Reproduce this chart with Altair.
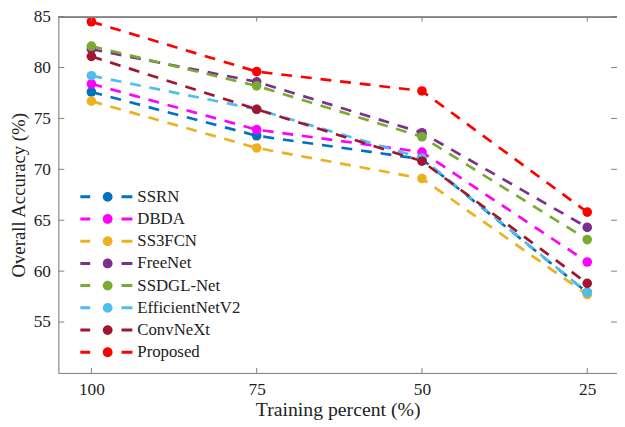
import altair as alt
import pandas as pd

train = [100, 75, 50, 25]
series_names = ["SSRN", "DBDA", "SS3FCN", "FreeNet", "SSDGL-Net", "EfficientNetV2", "ConvNeXt", "Proposed"]
colors = ["#0072BD", "#FF00FF", "#EDB120", "#7E2F8E", "#77AC30", "#4DBEEE", "#A2142F", "#FF0000"]

ssrn = [77.6, 73.3, 71.0, 57.9]
dbda = [78.4, 73.9, 71.7, 60.9]
ss3fcn = [76.7, 72.1, 69.1, 57.7]
freenet = [81.8, 78.6, 73.6, 64.3]
ssdgl = [82.1, 78.2, 73.2, 63.1]
effnet = [79.2, 75.9, 71.1, 57.9]
convnext = [81.1, 75.9, 70.8, 58.8]
proposed = [84.5, 79.6, 77.7, 65.8]

x_ticks = [100, 75, 50, 25]
y_ticks = [55, 60, 65, 70, 75, 80, 85]

W, H = 566, 361

all_vals = [ssrn, dbda, ss3fcn, freenet, ssdgl, effnet, convnext, proposed]
rows = []
for name, vals in zip(series_names, all_vals):
    for t, v in zip(train, vals):
        rows.append({"Method": name, "Training": t, "OA": v})
df = pd.DataFrame(rows)

FONT = "Liberation Serif"
AX = "#808080"
TXT = "#222222"

xscale = alt.Scale(domain=[20.5, 105], reverse=True, nice=False, zero=False)
yscale = alt.Scale(domain=[50, 85], nice=False, zero=False)
cscale = alt.Scale(domain=series_names, range=colors)

legend_path = ("M-3.08,-0.17H-1.97V0.17H-3.08Z "
               "M1.56,-0.17H2.78V0.17H1.56Z "
               "M-0.55,0A0.55,0.55 0 1,1 0.55,0A0.55,0.55 0 1,1 -0.55,0Z")

legend = alt.Legend(title=None, orient="none", legendX=41, legendY=173.5,
                    symbolType=legend_path, symbolSize=324,
                    symbolStrokeWidth=0, symbolOpacity=1,
                    labelFont=FONT, labelFontSize=17,
                    labelColor=TXT, labelOffset=21, rowPadding=5.5,
                    padding=0)

xaxis = alt.Axis(values=x_ticks, title="Training percent (%)", titleFont=FONT,
                 titleFontSize=20, titleFontWeight="normal", titleColor=TXT,
                 labelFont=FONT, labelFontSize=17.5, labelColor=TXT, labelPadding=8,
                 ticks=False, grid=False, domainColor=AX, titlePadding=2)
yaxis = alt.Axis(values=y_ticks, title="Overall Accuracy (%)", titleFont=FONT,
                 titleFontSize=19, titleFontWeight="normal", titleColor=TXT,
                 labelFont=FONT, labelFontSize=17.5, labelColor=TXT, labelPadding=8,
                 ticks=False, grid=False, domainColor=AX, titlePadding=5)

base = alt.Chart(df)

lines = base.mark_line(strokeDash=[11, 9], strokeWidth=2.7).encode(
    x=alt.X("Training:Q", scale=xscale, axis=xaxis),
    y=alt.Y("OA:Q", scale=yscale, axis=yaxis),
    color=alt.Color("Method:N", sort=series_names, scale=cscale, legend=None),
    detail="Method:N",
)

points = base.mark_point(filled=True, size=95, opacity=1).encode(
    x=alt.X("Training:Q", scale=xscale),
    y=alt.Y("OA:Q", scale=yscale),
    color=alt.Color("Method:N", sort=series_names, scale=cscale, legend=legend),
)

xt = pd.DataFrame({"t": x_ticks})
yt = pd.DataFrame({"v": y_ticks})

xtick_bot = alt.Chart(xt).mark_rule(color=AX, strokeWidth=1).encode(
    x=alt.X("t:Q", scale=xscale), y=alt.value(H), y2=alt.value(H - 5))
xtick_top = alt.Chart(xt).mark_rule(color=AX, strokeWidth=1).encode(
    x=alt.X("t:Q", scale=xscale), y=alt.value(0), y2=alt.value(5))
ytick_left = alt.Chart(yt).mark_rule(color=AX, strokeWidth=1).encode(
    y=alt.Y("v:Q", scale=yscale), x=alt.value(0), x2=alt.value(6))
ytick_right = alt.Chart(yt).mark_rule(color=AX, strokeWidth=1).encode(
    y=alt.Y("v:Q", scale=yscale), x=alt.value(W - 6), x2=alt.value(W))
top_line = alt.Chart(xt).mark_rule(color=AX, strokeWidth=1).encode(
    x=alt.value(0), x2=alt.value(W), y=alt.value(0.5))

chart = alt.layer(lines, points, xtick_bot, xtick_top, ytick_left, ytick_right, top_line).resolve_legend(
    color="independent"
).properties(
    width=W, height=H,
    autosize=alt.AutoSizeParams(type="none"),
    padding={"left": 51, "top": 6, "right": 0, "bottom": 52},
).configure_view(stroke=None).configure(background="white")

chart.save("out.html", embed_options={"renderer": "svg", "actions": False})
